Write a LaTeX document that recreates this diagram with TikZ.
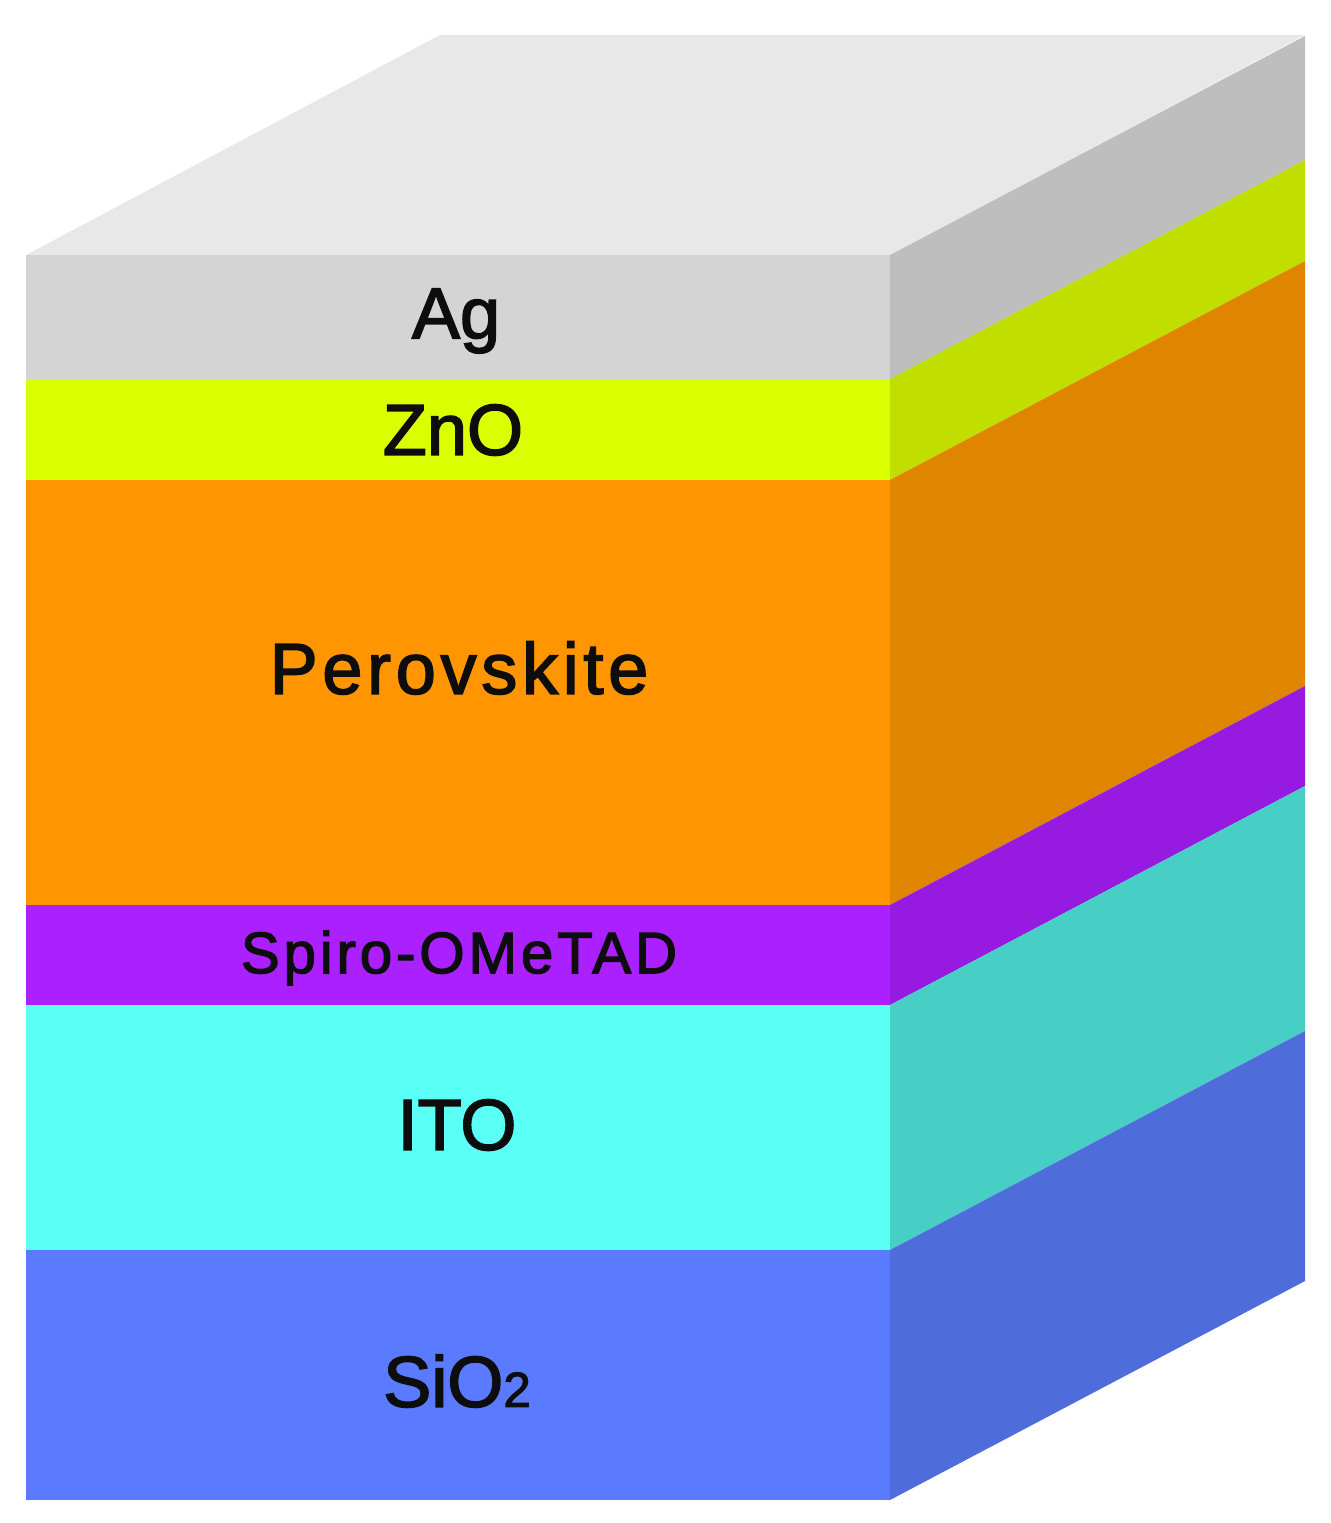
\documentclass[tikz,border=0pt]{standalone}
\usepackage{fontspec}
\setmainfont[RawFeature={embolden=2.2}]{Liberation Sans}
\newfontfamily\widefont[RawFeature={embolden=2.2}, LetterSpace=6.5]{Liberation Sans}
\definecolor{agF}{HTML}{D4D4D4}
\definecolor{agS}{HTML}{BEBEBE}
\definecolor{agT}{HTML}{E8E8E8}
\definecolor{znoF}{HTML}{D9FF00}
\definecolor{znoS}{HTML}{C0DE00}
\definecolor{perF}{HTML}{FF9500}
\definecolor{perS}{HTML}{E08500}
\definecolor{spiF}{HTML}{AA20FF}
\definecolor{spiS}{HTML}{961ADF}
\definecolor{itoF}{HTML}{5AFFF5}
\definecolor{itoS}{HTML}{48CFC5}
\definecolor{sioF}{HTML}{5A7BFF}
\definecolor{sioS}{HTML}{4F6CDB}
\tikzstyle{layer}=[inner sep=0pt, font=\fontsize{20.5}{24}\selectfont, text=black!95]
\tikzstyle{wide layer}=[layer, font=\widefont\fontsize{20.5}{24}\selectfont]
\tikzstyle{thin layer}=[layer, font=\widefont\fontsize{16.6}{20}\selectfont]
\begin{document}
\begin{tikzpicture}[x=0.01cm, y=-0.01cm]
	\useasboundingbox (0,0) rectangle (1331,1523);
	% top face
	\fill[agT] (26,255) -- (440,35) -- (1305,35) -- (890,255) -- cycle;
	% front and side of each layer
	\foreach \ya/\yb/\front/\side in {255/379/agF/agS, 379/480/znoF/znoS, 480/905/perF/perS, 905/1005/spiF/spiS, 1005/1250/itoF/itoS, 1250/1500/sioF/sioS} {
		\fill[\front] (26,\ya) rectangle (890,\yb);
		\fill[\side] (890,\ya) -- (1305,\ya-219) -- (1305,\yb-219) -- (890,\yb) -- cycle;
	}
	\node[layer] (ag) at (456,321) {Ag};
	\node[layer] (zno) at (453,430) {ZnO};
	\node[wide layer] (per) at (459,668) {Perovskite};
	\node[thin layer] (spi) at (459,958) {Spiro-OMeTAD};
	\node[layer] (ito) at (457,1125) {ITO};
	\node[layer] (sio) at (457,1381) {SiO\fontsize{14}{17}\selectfont 2};
\end{tikzpicture}
\end{document}
